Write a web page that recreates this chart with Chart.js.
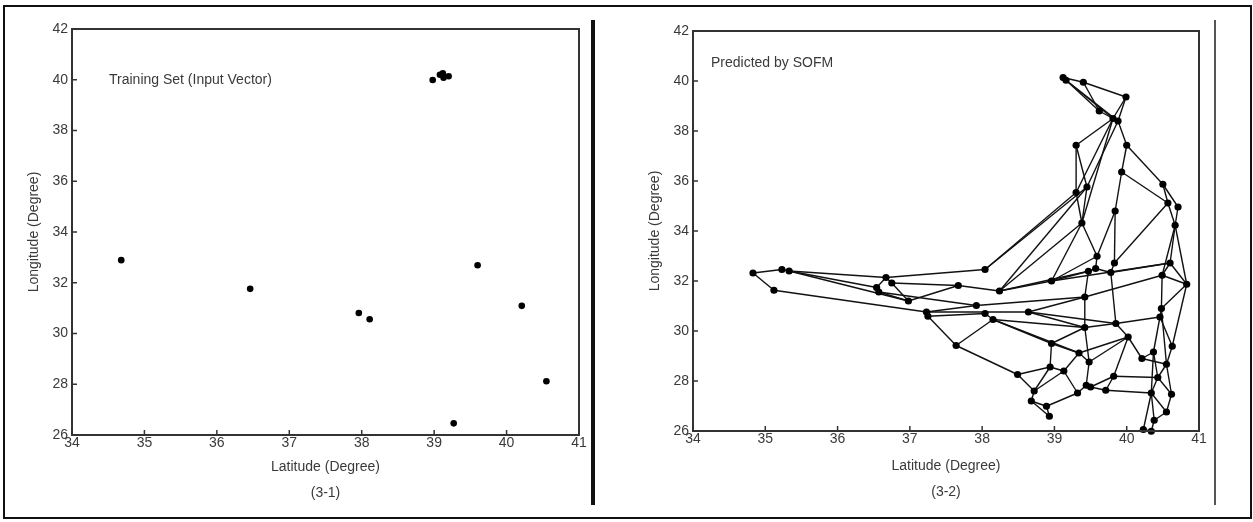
<!DOCTYPE html>
<html>
<head>
<meta charset="utf-8">
<script src="https://cdn.jsdelivr.net/npm/chart.js@4.4.1/dist/chart.umd.min.js"></script>
<style>
  html, body { margin: 0; padding: 0; background: #fff; }
  body { width: 1253px; height: 522px; position: relative; overflow: hidden; }
  .frame { position: absolute; left: 3px; top: 5px; width: 1245px; height: 510px; border: 2px solid #111; }
  .wrap { position: absolute; top: 0; height: 522px; }
  #wrapLeft { left: 0; width: 600px; }
  #wrapRight { left: 600px; width: 653px; }
  .sep1 { position: absolute; left: 591px; top: 20px; width: 4px; height: 485px; background: #111; }
  .sep2 { position: absolute; left: 1214px; top: 20px; width: 2px; height: 485px; background: #555; }
</style>
</head>
<body>
<div class="frame"></div>
<div class="wrap" id="wrapLeft"><canvas id="chartLeft" width="600" height="522"></canvas></div>
<div class="wrap" id="wrapRight"><canvas id="chartRight" width="653" height="522"></canvas></div>
<div class="sep1"></div>
<div class="sep2"></div>
<script>
// Training set (input vectors)
const trainLat = [34.68, 36.46, 37.96, 38.11, 39.60, 40.21, 40.55, 39.27, 38.98, 39.08, 39.12, 39.13, 39.20];
const trainLon = [32.89, 31.76, 30.81, 30.56, 32.69, 31.09, 28.12, 26.46, 39.99, 40.20, 40.25, 40.08, 40.14];

// SOFM neurons
const nodeLat = [
  39.12, 39.16, 39.40, 39.99, 39.62, 39.81, 39.88, 39.30, 40.00, 39.93,
  40.50, 39.45, 39.30, 40.57, 40.71, 39.84, 39.38, 40.67, 34.83, 35.23,
  35.33, 35.12, 36.67, 36.75, 36.54, 36.57, 36.98, 37.67, 38.04, 38.24,
  37.92, 37.23, 37.25, 38.04, 38.15, 38.64, 37.64, 38.49, 39.59, 39.83,
  40.60, 39.47, 39.57, 39.78, 40.49, 40.83, 38.96, 39.42, 40.48, 40.46,
  39.42, 39.85, 40.02, 40.63, 38.96, 39.34, 40.37, 39.48, 40.21, 40.55,
  38.94, 39.13, 39.82, 40.43, 39.44, 39.50, 39.71, 38.72, 39.32, 40.34,
  40.62, 38.68, 38.89, 40.55, 38.93, 40.38, 40.23, 40.34
];
const nodeLon = [
  40.14, 40.03, 39.95, 39.36, 38.80, 38.50, 38.40, 37.43, 37.43, 36.36,
  35.87, 35.76, 35.54, 35.12, 34.96, 34.80, 34.32, 34.23, 32.32, 32.46,
  32.40, 31.63, 32.14, 31.92, 31.74, 31.56, 31.20, 31.82, 32.46, 31.60,
  31.02, 30.76, 30.59, 30.70, 30.46, 30.76, 29.42, 28.26, 32.99, 32.72,
  32.72, 32.39, 32.50, 32.34, 32.23, 31.87, 32.00, 31.36, 30.90, 30.56,
  30.14, 30.30, 29.76, 29.39, 29.50, 29.12, 29.16, 28.76, 28.90, 28.67,
  28.56, 28.40, 28.19, 28.14, 27.83, 27.76, 27.63, 27.60, 27.52, 27.52,
  27.47, 27.20, 26.99, 26.76, 26.59, 26.43, 26.06, 25.99
];

// links between neighbouring neurons (node indices)
const links = [
  [0,2],[2,3],[0,4],[1,5],[1,6],[2,4],[4,5],[3,5],[3,6],[5,7],[6,8],[7,12],[7,11],[5,12],[6,11],[5,16],
  [8,9],[8,10],[9,15],[9,13],[10,13],[10,14],[13,17],[14,17],[13,39],[11,16],[12,16],[16,38],[15,39],[15,38],
  [17,40],[17,44],[17,45],[40,45],[44,45],[45,48],[40,44],[43,40],[38,42],[41,42],[39,43],[42,43],[41,47],[43,51],
  [41,46],[46,16],[46,38],[46,40],[29,46],[29,41],[29,16],[28,12],[28,11],[29,11],[47,44],[44,48],[48,49],
  [47,50],[50,51],[49,51],[35,47],[35,50],[35,51],[34,50],[30,47],
  [18,19],[19,20],[18,21],[20,22],[20,24],[20,26],[21,31],[22,23],[22,28],[23,26],[24,25],[25,26],[23,27],
  [27,29],[26,27],[25,30],[30,31],[31,32],[31,35],[32,33],[33,34],[32,36],[36,34],[36,37],[34,54],[34,55],
  [37,60],[37,67],[24,22],
  [50,57],[50,54],[51,52],[52,58],[55,52],[52,62],[45,53],[49,53],[49,56],[56,63],[56,69],[48,59],[59,63],
  [63,70],[63,69],[58,59],[62,63],[66,69],[62,65],[57,64],[57,52],[55,61],[54,55],[54,60],[60,67],[61,67],
  [60,61],[61,68],[55,57],[67,71],[71,72],[72,74],[71,74],[68,72],[65,66],[64,65],[64,68],[69,73],[69,75],
  [69,76],[70,73],[73,75],[75,77],[76,77],[59,70],[53,59],[66,62],[58,56]
];

const xTicks = [34, 35, 36, 37, 38, 39, 40, 41];
const yTicks = [26, 28, 30, 32, 34, 36, 38, 40, 42];

const FONT = '"Liberation Sans", Arial, Helvetica, sans-serif';
const TXT = '#3a3a3a';

// frame, inward tick marks and in-plot caption
const boxPlugin = {
    id: 'box',
    afterDraw(chart, args, opts) {
        const { ctx, chartArea: a, scales: { x, y } } = chart;
        ctx.save();
        ctx.strokeStyle = '#333';
        ctx.lineWidth = 2;
        ctx.strokeRect(a.left, a.top, a.right - a.left, a.bottom - a.top);
        ctx.lineWidth = 1.5;
        ctx.beginPath();
        xTicks.forEach(v => {
            const px = x.getPixelForValue(v);
            ctx.moveTo(px, a.bottom);
            ctx.lineTo(px, a.bottom - 5);
        });
        yTicks.forEach(v => {
            const py = y.getPixelForValue(v);
            ctx.moveTo(a.left, py);
            ctx.lineTo(a.left + 5, py);
        });
        ctx.stroke();
        ctx.fillStyle = TXT;
        ctx.font = '14px ' + FONT;
        ctx.textBaseline = 'middle';
        ctx.fillText(opts.label, a.left + opts.dx, a.top + opts.dy);
        ctx.restore();
    }
};

function makeOptions(pad, xHeight, titleBottom, caption) {
    return {
        responsive: false,
        animation: false,
        layout: { padding: pad },
        plugins: {
            legend: { display: false },
            tooltip: { enabled: false },
            box: caption
        },
        scales: {
            x: {
                type: 'linear', min: 34, max: 41,
                afterFit: s => { s.height = xHeight; },
                afterBuildTicks: s => { s.ticks = xTicks.map(v => ({ value: v })); },
                grid: { display: false, drawTicks: false },
                border: { display: false },
                ticks: { padding: 0, color: TXT, font: { size: 14, family: FONT } },
                title: {
                    display: true, text: ['Latitude (Degree)', caption.fig],
                    color: TXT, font: { size: 14, family: FONT, lineHeight: 1.86 },
                    padding: { top: 0, bottom: titleBottom }
                }
            },
            y: {
                type: 'linear', min: 26, max: 42,
                afterFit: s => { s.width = 50; },
                afterBuildTicks: s => { s.ticks = yTicks.map(v => ({ value: v })); },
                grid: { display: false, drawTicks: false },
                border: { display: false },
                ticks: { padding: 4, color: TXT, font: { size: 14, family: FONT } },
                title: {
                    display: true, text: 'Longitude (Degree)',
                    color: TXT, font: { size: 14, family: FONT },
                    padding: { top: 4, bottom: 0 }
                }
            }
        }
    };
}

document.addEventListener('DOMContentLoaded', function () {
    // (3-1) training set
    const trainPts = trainLat.map((v, i) => ({ x: v, y: trainLon[i] }));
    new Chart(document.getElementById('chartLeft'), {
        type: 'scatter',
        data: {
            datasets: [{
                data: trainPts, pointRadius: 3.3, pointBackgroundColor: '#000',
                pointBorderWidth: 0, clip: false
            }]
        },
        options: makeOptions({ left: 22, right: 21, top: 29, bottom: 0 }, 87, 16,
            { label: 'Training Set (Input Vector)', dx: 37, dy: 51, fig: '(3-1)' }),
        plugins: [boxPlugin]
    });

    // (3-2) predicted by SOFM
    const nodePts = nodeLat.map((v, i) => ({ x: v, y: nodeLon[i] }));
    const datasets = [{
        data: nodePts, pointRadius: 3.6, pointBackgroundColor: '#000',
        pointBorderWidth: 0, showLine: false, clip: false
    }];
    links.forEach(([a, b]) => {
        datasets.push({
            data: [nodePts[a], nodePts[b]], showLine: true, pointRadius: 0,
            borderColor: '#111', borderWidth: 1.4, clip: false
        });
    });
    new Chart(document.getElementById('chartRight'), {
        type: 'scatter',
        data: { datasets },
        options: makeOptions({ left: 43, right: 54, top: 31, bottom: 0 }, 91, 17,
            { label: 'Predicted by SOFM', dx: 18, dy: 32, fig: '(3-2)' }),
        plugins: [boxPlugin]
    });
});
</script>
</body>
</html>
